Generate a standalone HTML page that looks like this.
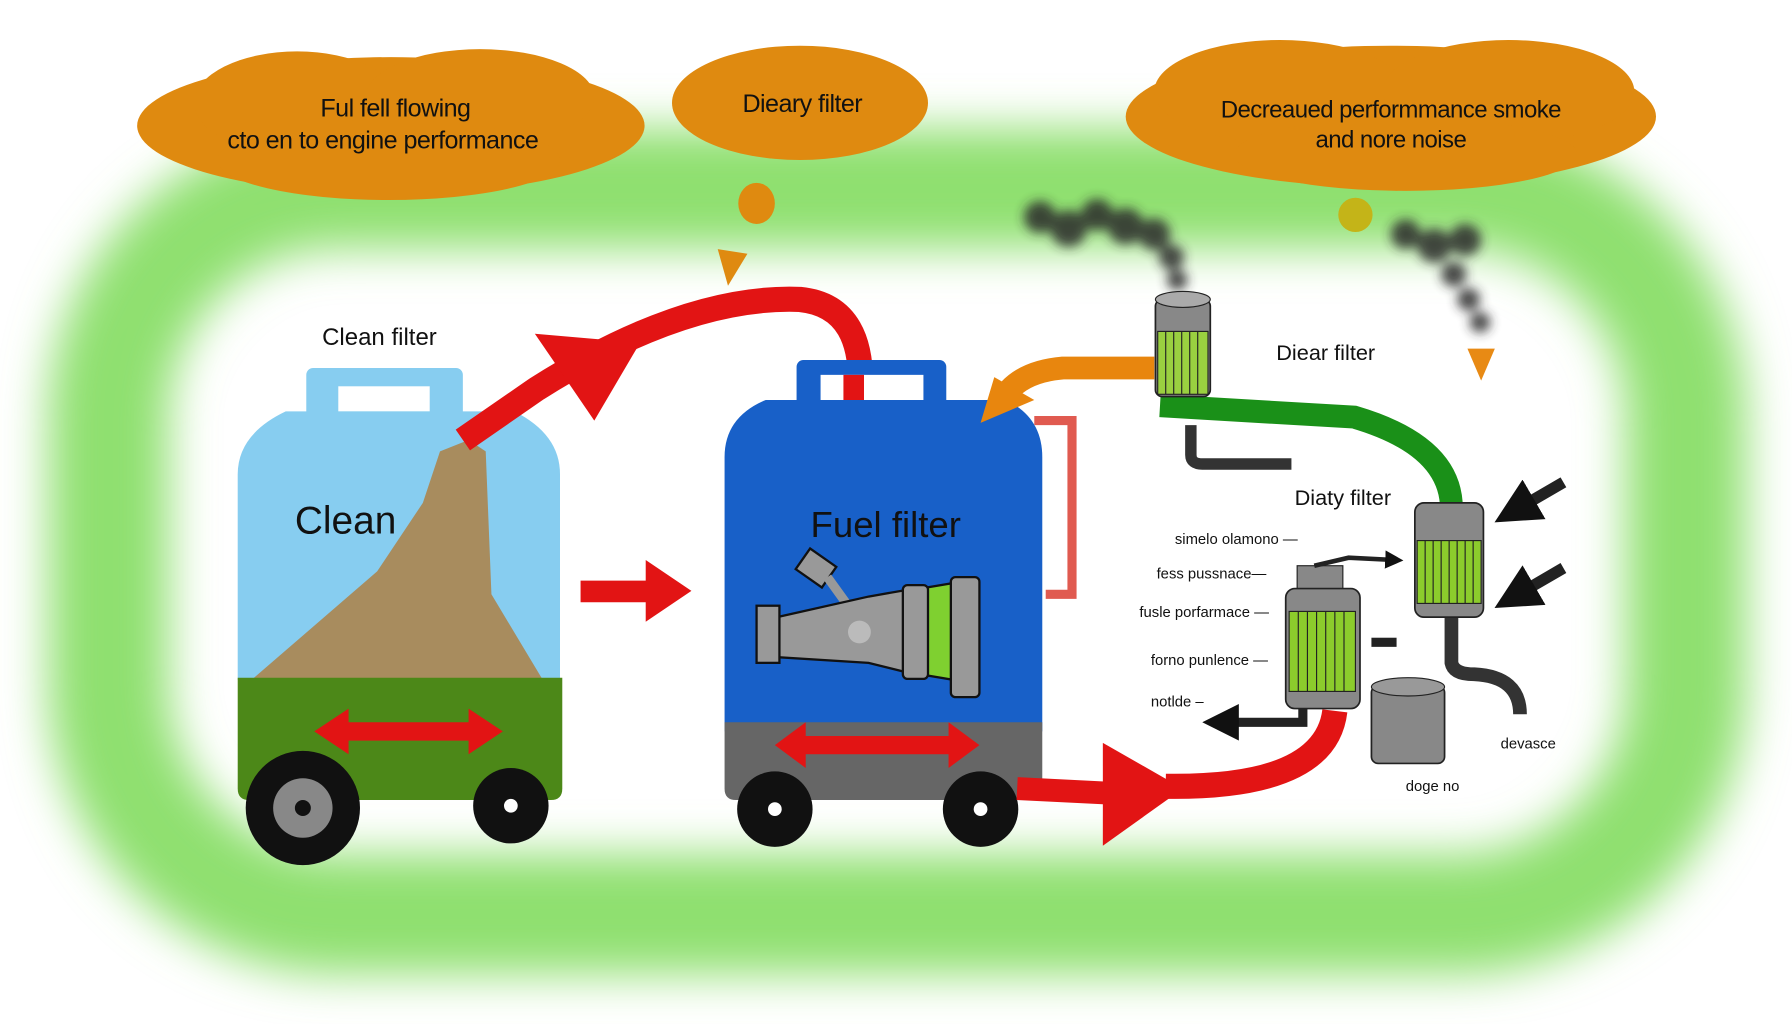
<!DOCTYPE html>
<html><head><meta charset="utf-8"><style>
html,body{margin:0;padding:0;background:#fff;overflow:hidden}
svg{display:block}
text{font-family:"Liberation Sans",sans-serif;fill:#111}
</style></head><body>
<svg width="1792" height="1024" viewBox="0 0 1568 896" preserveAspectRatio="none" xmlns="http://www.w3.org/2000/svg">
<defs>
<filter id="b" x="-20%" y="-20%" width="140%" height="140%"><feGaussianBlur stdDeviation="20"/></filter>
<filter id="s" x="-30%" y="-30%" width="160%" height="160%"><feGaussianBlur stdDeviation="5"/></filter>
<marker id="ah" markerWidth="4" markerHeight="4" refX="2" refY="2" orient="auto"><path d="M0,0L4,2L0,4z" fill="#111"/></marker>
</defs>
<rect width="1568" height="896" fill="#fff"/>
<!-- green ring -->
<rect x="95" y="165" width="1380" height="635" rx="200" fill="none" stroke="#8fe070" stroke-width="105" filter="url(#b)"/>
<!-- bubbles -->
<g fill="#df8a10">
<ellipse cx="342" cy="110" rx="222" ry="60"/><ellipse cx="260" cy="90" rx="90" ry="45"/><ellipse cx="420" cy="85" rx="100" ry="42"/><ellipse cx="340" cy="140" rx="150" ry="35"/>
<ellipse cx="700" cy="90" rx="112" ry="50"/>
<ellipse cx="1217" cy="102" rx="232" ry="62"/><ellipse cx="1120" cy="80" rx="110" ry="45"/><ellipse cx="1320" cy="80" rx="110" ry="45"/><ellipse cx="1230" cy="135" rx="150" ry="32"/>
<ellipse cx="662" cy="178" rx="16" ry="18"/>
<path d="M628,218L654,222L637,250z"/>
<path d="M1284,305L1308,305L1296,333z" fill="#e88a14"/>
</g>
<circle cx="1186" cy="188" r="15" fill="#c4b418"/>
<g font-size="22" style="letter-spacing:-0.5px">
<text x="346" y="102" text-anchor="middle">Ful fell flowing</text>
<text x="335" y="130" text-anchor="middle">cto  en to  engine performance</text>
<text x="702" y="98" text-anchor="middle">Dieary filter</text>
<text x="1217" y="103" font-size="21" text-anchor="middle">Decreaued  performmance  smoke</text>
<text x="1217" y="129" font-size="21" text-anchor="middle">and nore noise</text>
</g>
<!-- smoke -->
<g fill="#2a2a2a" filter="url(#s)" opacity="0.85">
<circle cx="910" cy="190" r="14"/><circle cx="935" cy="200" r="16"/><circle cx="960" cy="188" r="14"/><circle cx="985" cy="198" r="16"/><circle cx="1010" cy="205" r="14"/><circle cx="1025" cy="225" r="11"/><circle cx="1030" cy="245" r="9"/>
<circle cx="1230" cy="205" r="13"/><circle cx="1255" cy="215" r="15"/><circle cx="1282" cy="210" r="14"/><circle cx="1272" cy="240" r="11"/><circle cx="1285" cy="262" r="10"/><circle cx="1295" cy="282" r="9"/>
</g>
<!-- left jug -->
<rect x="268" y="322" width="137" height="60" rx="6" fill="#87cdf0"/>
<rect x="296" y="338" width="80" height="22" fill="#fff"/>
<path d="M208,415Q208,380 250,360L450,360Q490,380 490,415L490,595L208,595z" fill="#87cdf0"/>
<path d="M220,595L330,500L370,440L385,395L410,385L425,395L430,520L475,595z" fill="#a88c5e"/>
<path d="M208,593L492,593L492,690Q492,700 482,700L218,700Q208,700 208,690z" fill="#4c8818"/>
<text x="258" y="467" font-size="34">Clean</text>
<text x="332" y="302" font-size="21" text-anchor="middle">Clean filter</text>
<path d="M275,640L305,620L305,632L410,632L410,620L440,640L410,660L410,648L305,648L305,660z" fill="#e21414"/>
<circle cx="265" cy="707" r="50" fill="#111"/><circle cx="265" cy="707" r="26" fill="#888"/><circle cx="265" cy="707" r="7" fill="#111"/>
<circle cx="447" cy="705" r="33" fill="#111"/><circle cx="447" cy="705" r="6" fill="#fff"/>
<!-- red arrow top -->
<path d="M405,385L470,340Q600,258 700,262Q760,268 752,352" fill="none" stroke="#e21414" stroke-width="22"/>
<path d="M468,292L560,300L520,368z" fill="#e21414"/>
<path d="M508,508L565,508L565,490L605,517L565,544L565,527L508,527z" fill="#e21414"/>
<!-- blue jug -->
<rect x="697" y="315" width="131" height="45" rx="6" fill="#1860c8"/>
<rect x="718" y="328" width="90" height="25" fill="#fff"/>
<rect x="738" y="328" width="18" height="25" fill="#e21414"/>
<path d="M634,400Q634,365 670,350L880,350Q912,365 912,400L912,640L634,640z" fill="#1860c8"/>
<path d="M634,632L912,632L912,690Q912,700 902,700L644,700Q634,700 634,690z" fill="#666"/>
<text x="775" y="470" font-size="32" text-anchor="middle">Fuel filter</text>
<g stroke="#111" stroke-width="2">
<rect x="700" y="486" width="28" height="22" transform="rotate(35 714 497)" fill="#999"/>
<path d="M724,505L742,530L748,555" fill="none" stroke="#999" stroke-width="8"/>
<path d="M680,540L760,522L800,515L800,590L760,580L680,575z" fill="#999"/>
<rect x="662" y="530" width="20" height="50" fill="#999"/>
<path d="M805,515L835,510L835,595L805,590z" fill="#7fd030"/>
<rect x="790" y="512" width="22" height="82" rx="4" fill="#999"/>
<rect x="832" y="505" width="25" height="105" rx="4" fill="#999"/>
<circle cx="752" cy="553" r="10" fill="#bbb" stroke="none"/>
</g>
<path d="M678,652L705,632L705,644L830,644L830,632L857,652L830,672L830,660L705,660L705,672z" fill="#e21414"/>
<circle cx="678" cy="708" r="33" fill="#111"/><circle cx="678" cy="708" r="6" fill="#fff"/>
<circle cx="858" cy="708" r="33" fill="#111"/><circle cx="858" cy="708" r="6" fill="#fff"/>
<path d="M905,368L938,368L938,520L915,520" fill="none" stroke="#e05a50" stroke-width="8"/>
<!-- bottom red arrow -->
<path d="M890,690L970,694" stroke="#e21414" stroke-width="20"/>
<path d="M965,650L1035,690L965,740z" fill="#e21414"/>
<path d="M1020,688Q1160,690 1168,622" fill="none" stroke="#e21414" stroke-width="22"/>
<!-- orange arrow -->
<path d="M1010,322L930,322Q895,325 880,345" fill="none" stroke="#e8860e" stroke-width="20"/>
<path d="M858,370L870,330L905,350z" fill="#e8860e"/>
<!-- pipes -->
<path d="M1042,372L1042,398Q1042,406 1052,406L1130,406" fill="none" stroke="#333" stroke-width="10"/>
<path d="M1015,355L1185,365Q1270,390 1270,445" fill="none" stroke="#1a9018" stroke-width="20"/>
<path d="M1270,540L1270,580Q1272,590 1290,590Q1330,592 1330,625" fill="none" stroke="#333" stroke-width="12"/>
<!-- top filter -->
<rect x="1011" y="262" width="48" height="85" rx="6" fill="#888" stroke="#222" stroke-width="1.5"/>
<ellipse cx="1035" cy="262" rx="24" ry="7" fill="#aaa" stroke="#222"/>
<rect x="1013" y="290" width="44" height="55" fill="#9ad040" stroke="#222"/>
<path d="M1020,290v55M1027,290v55M1034,290v55M1041,290v55M1048,290v55" stroke="#222"/>
<text x="1160" y="315" font-size="19" text-anchor="middle">Diear filter</text>
<text x="1175" y="442" font-size="19" text-anchor="middle">Diaty filter</text>
<!-- right filter -->
<rect x="1238" y="440" width="60" height="100" rx="8" fill="#888" stroke="#222" stroke-width="1.5"/>
<rect x="1240" y="473" width="56" height="55" fill="#8ccc2c" stroke="#222"/>
<path d="M1247,473v55M1254,473v55M1261,473v55M1268,473v55M1275,473v55M1282,473v55M1289,473v55" stroke="#222"/>
<path d="M1368,422L1325,447" stroke="#222" stroke-width="10" marker-end="url(#ah)"/>
<path d="M1368,497L1325,522" stroke="#222" stroke-width="10" marker-end="url(#ah)"/>
<!-- lower filter -->
<rect x="1135" y="495" width="40" height="25" fill="#888" stroke="#222"/>
<rect x="1125" y="515" width="65" height="105" rx="8" fill="#888" stroke="#222" stroke-width="1.5"/>
<rect x="1128" y="535" width="58" height="70" fill="#8ccc2c" stroke="#222"/>
<path d="M1136,535v70M1144,535v70M1152,535v70M1160,535v70M1168,535v70M1176,535v70" stroke="#222"/>
<path d="M1150,495L1180,488L1220,490" fill="none" stroke="#222" stroke-width="4" marker-end="url(#ah)"/>
<path d="M1140,620L1140,632L1068,632" fill="none" stroke="#222" stroke-width="8" marker-end="url(#ah)"/>
<rect x="1200" y="558" width="22" height="8" fill="#222"/>
<rect x="1200" y="600" width="64" height="68" rx="6" fill="#888" stroke="#222" stroke-width="1.5"/>
<ellipse cx="1232" cy="601" rx="32" ry="8" fill="#999" stroke="#222"/>
<g font-size="13">
<text x="1028" y="476">simelo olamono —</text>
<text x="1012" y="506">fess pussnace—</text>
<text x="997" y="540">fusle porfarmace —</text>
<text x="1007" y="582">forno punlence —</text>
<text x="1007" y="618">notlde  –</text>
<text x="1313" y="655">devasce</text>
<text x="1230" y="692">doge no</text>
</g>
</svg>
</body></html>
